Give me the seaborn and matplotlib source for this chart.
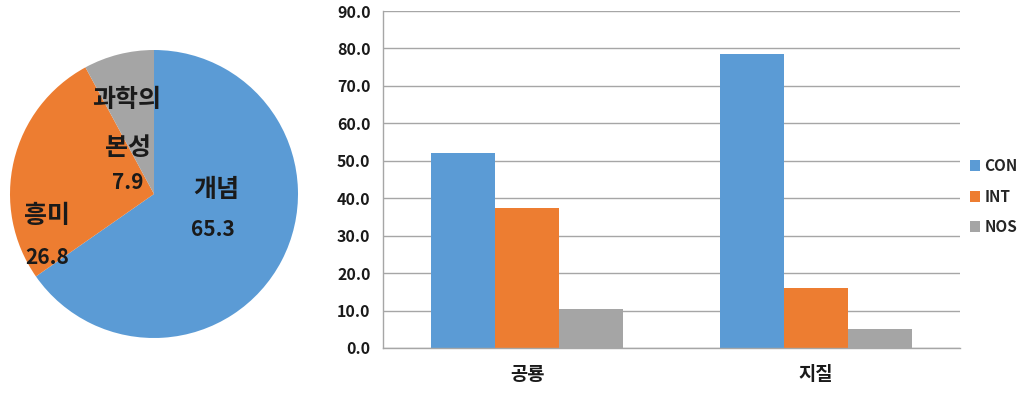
import numpy as np
import pandas as pd
import seaborn as sns
import matplotlib.pyplot as plt
from matplotlib.ticker import FormatStrFormatter, FixedLocator
from matplotlib.patches import Patch

# pie data
pie_labels = ["개념", "흥미", "과학의\n본성"]
pie_values = [65.3, 26.8, 7.9]

# bar data
categories = ["공룡", "지질"]
series = ["CON", "INT", "NOS"]
con_values = [52.0, 78.5]
int_values = [37.4, 15.9]
nos_values = [10.4, 5.2]

colors = ["#5B9BD5", "#ED7D31", "#A5A5A5"]

sns.set_style("white")
plt.rcParams["font.family"] = ["Noto Sans CJK KR", "DejaVu Sans"]

df = pd.DataFrame({
    "category": categories * 3,
    "series": np.repeat(series, len(categories)),
    "value": con_values + int_values + nos_values,
})

fig = plt.figure(figsize=(10.36, 3.93), dpi=100)

# pie on the left
ax_pie = fig.add_axes([10 / 1036, (393 - 338) / 393, 288 / 1036, 288 / 393])
ax_pie.pie(pie_values, colors=colors, startangle=90, counterclock=False,
           wedgeprops=dict(linewidth=0))
ax_pie.set_aspect("equal")
ax_pie.set_xlim(-1, 1)
ax_pie.set_ylim(-1, 1)

kor = dict(fontsize=18, fontweight="bold", color="#1a1a1a", ha="center", va="center")
num = dict(fontsize=15, fontweight="bold", color="#1a1a1a", ha="center", va="center")
ax_pie.text(0.43, 0.03, pie_labels[0], **kor)
ax_pie.text(0.41, -0.25, f"{pie_values[0]:.1f}", **num)
ax_pie.text(-0.74, -0.15, pie_labels[1], **kor)
ax_pie.text(-0.74, -0.44, f"{pie_values[1]:.1f}", **num)
ax_pie.text(-0.19, 0.65, "과학의", **kor)
ax_pie.text(-0.18, 0.32, "본성", **kor)
ax_pie.text(-0.18, 0.08, f"{pie_values[2]:.1f}", **num)

# grouped bars on the right
ax = fig.add_axes([383 / 1036, (393 - 348) / 393, 577 / 1036, 337 / 393])
sns.barplot(data=df, x="category", y="value", hue="series", order=categories,
            hue_order=series, palette=colors, width=2 / 3, gap=0,
            saturation=1, linewidth=0, legend=False, ax=ax)

ax.set_ylim(0, 90)
ax.set_xlim(-0.5, 1.5)
ax.set_yticks(np.arange(0, 91, 10))
ax.yaxis.set_major_formatter(FormatStrFormatter("%.1f"))
ax.yaxis.grid(True, color="#A6A6A6", linewidth=1)
ax.set_axisbelow(True)
ax.set_xlabel("")
ax.set_ylabel("")

for s in ["top", "right"]:
    ax.spines[s].set_visible(False)
for s in ["left", "bottom"]:
    ax.spines[s].set_color("#A6A6A6")
    ax.spines[s].set_linewidth(1)

ax.tick_params(axis="y", length=5, color="#A6A6A6", labelsize=11.5, pad=4)
ax.tick_params(axis="x", which="major", length=0, labelsize=13.5, pad=12)
ax.xaxis.set_minor_locator(FixedLocator([-0.5, 0.5, 1.5]))
ax.tick_params(axis="x", which="minor", length=5, color="#A6A6A6")
for lab in ax.get_yticklabels() + ax.get_xticklabels():
    lab.set_fontweight("bold")
    lab.set_color("#1a1a1a")

handles = [Patch(facecolor=c, edgecolor="none") for c in colors]
fig.legend(handles, series, loc="center left", bbox_to_anchor=(0.936, 0.5),
           frameon=False, handlelength=0.7, handleheight=0.7, handletextpad=0.25,
           borderpad=0, borderaxespad=0,
           labelspacing=0.95, prop=dict(weight="bold", size=11))

fig.savefig("out.png", dpi=100)
